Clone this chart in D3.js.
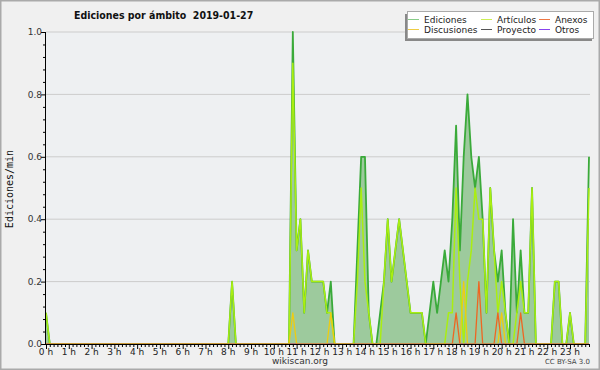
<!DOCTYPE html>
<html><head><meta charset="utf-8">
<script src="https://cdn.jsdelivr.net/npm/d3@7"></script>
<style>body{margin:0;background:#f0f0f0}svg{display:block}</style>
</head><body>
<svg id="c" width="600" height="370"></svg>
<script>
// 10-minute buckets (144 per day), edits per minute
const ediciones = [
0.1,0,0,0,0,0, 0,0,0,0,0,0, 0,0,0,0,0,0, 0,0,0,0,0,0, 0,0,0,0,0,0, 0,0,0,0,0,0, 0,0,0,0,0,0, 0,0,0,0,0,0,
0,0.2,0,0,0,0, 0,0,0,0,0,0, 0,0,0,0,0,1.0, 0.3,0.4,0.1,0.3,0.2,0.2, 0.2,0.2,0.1,0.2,0,0, 0,0,0,0,0.3,0.6,
0.6,0.1,0,0,0.1,0.2, 0.4,0.2,0.3,0.4,0.3,0.2, 0.1,0.1,0.1,0.1,0,0.1, 0.2,0.1,0.2,0.3,0.2,0.4,
0.7,0.3,0.6,0.8,0.6,0.5, 0.6,0.4,0.1,0.5,0.3,0.2, 0.3,0.1,0,0.4,0.1,0.3, 0.1,0.1,0.5,0,0,0,
0,0,0.2,0.2,0,0, 0.1,0,0,0,0,0.6];
const articulos = [
0.1,0,0,0,0,0, 0,0,0,0,0,0, 0,0,0,0,0,0, 0,0,0,0,0,0, 0,0,0,0,0,0, 0,0,0,0,0,0, 0,0,0,0,0,0, 0,0,0,0,0,0,
0,0.2,0,0,0,0, 0,0,0,0,0,0, 0,0,0,0,0,0.9, 0.3,0.4,0.1,0.3,0.2,0.2, 0.2,0.2,0.1,0.1,0,0, 0,0,0,0,0.2,0.5,
0.2,0.1,0,0,0,0.2, 0.4,0.2,0.3,0.4,0.3,0.2, 0.1,0.1,0.1,0.1,0,0, 0,0,0,0,0.1,0.1,
0.5,0.2,0,0.2,0.3,0.5, 0.4,0.4,0.1,0.5,0.3,0.1, 0.2,0.1,0,0,0.1,0.2, 0.1,0.1,0.5,0,0,0,
0,0,0.2,0.2,0,0, 0.1,0,0,0,0,0.5];
const anexos = [
0,0,0,0,0,0, 0,0,0,0,0,0, 0,0,0,0,0,0, 0,0,0,0,0,0, 0,0,0,0,0,0, 0,0,0,0,0,0, 0,0,0,0,0,0, 0,0,0,0,0,0,
0,0,0,0,0,0, 0,0,0,0,0,0, 0,0,0,0,0,0, 0,0,0,0,0,0, 0,0,0,0,0,0, 0,0,0,0,0,0,
0,0,0,0,0,0, 0,0,0,0,0,0, 0,0,0,0,0,0, 0,0,0,0,0,0,
0.1,0,0,0,0,0, 0.2,0,0,0,0,0.1, 0,0,0,0,0,0.1, 0,0,0,0,0,0,
0,0,0,0,0,0, 0,0,0,0,0,0];
const discusiones = [
0,0,0,0,0,0, 0,0,0,0,0,0, 0,0,0,0,0,0, 0,0,0,0,0,0, 0,0,0,0,0,0, 0,0,0,0,0,0, 0,0,0,0,0,0, 0,0,0,0,0,0,
0,0,0,0,0,0, 0,0,0,0,0,0, 0,0,0,0,0,0.1, 0,0,0,0,0,0, 0,0,0,0.1,0,0, 0,0,0,0,0,0,
0,0,0,0,0,0, 0,0,0,0,0,0, 0,0,0,0,0,0, 0,0,0,0,0,0,
0,0,0.2,0,0,0, 0,0,0,0,0,0, 0.1,0,0,0,0,0, 0,0,0,0,0,0,
0,0,0,0,0,0, 0,0,0,0,0,0];
const proyecto = new Array(144).fill(0);
const otros = new Array(144).fill(0);
const hourLabels = ["0 h","1 h","2 h","3 h","4 h","5 h","6 h","7 h","8 h","9 h","10 h","11 h",
  "12 h","13 h","14 h","15 h","16 h","17 h","18 h","19 h","20 h","21 h","22 h","23 h"];
const yTicks = [0.0,0.2,0.4,0.6,0.8,1.0];
const series = [
  {name:"Ediciones", values:ediciones, color:"#3aaa3a", legend:"#88cc88", w:1.8},
  {name:"Artículos", values:articulos, color:"#aaee11", legend:"#ccee55", w:1.5},
  {name:"Anexos", values:anexos, color:"#ee6622", legend:"#ee7744", w:1.3},
  {name:"Discusiones", values:discusiones, color:"#eecc11", legend:"#eecc44", w:1.3},
  {name:"Proyecto", values:proyecto, color:"#555555", legend:"#555555", w:1.3},
  {name:"Otros", values:otros, color:"#8844ee", legend:"#8844ee", w:1.3}
];

const svg = d3.select("#c");
const L=46, R=589, T=32, B=344;
const x = d3.scaleLinear().domain([0,143]).range([L,R]);
const y = d3.scaleLinear().domain([0,1]).range([B,T]);

svg.append("rect").attr("x",0.75).attr("y",0.75).attr("width",598.5).attr("height",368.5)
  .attr("fill","#f0f0f0").attr("stroke","#aaaaaa").attr("stroke-width",1.5);
svg.append("rect").attr("x",L).attr("y",T).attr("width",R-L+1).attr("height",B-T)
  .attr("fill","#eef0f2");

// grid
svg.append("g").selectAll("line").data(yTicks.filter(d=>d>0)).join("line")
  .attr("x1",L).attr("x2",R+1).attr("y1",d=>y(d)).attr("y2",d=>y(d))
  .attr("stroke","#cccccc").attr("stroke-width",1);

svg.append("defs").append("clipPath").attr("id","clip")
  .append("rect").attr("x",L).attr("y",0).attr("width",R-L+2).attr("height",B-0.5);

const g = svg.append("g").attr("clip-path","url(#clip)");
const area = d3.area().x((d,i)=>x(i)).y0(B).y1(d=>y(d));
g.append("path").datum(ediciones).attr("d",area).attr("fill","#9dca9d");
const line = d3.line().x((d,i)=>x(i)).y(d=>y(d));
const order = ["Ediciones","Otros","Proyecto","Artículos","Discusiones","Anexos"];
order.forEach(n=>{
  const s = series.find(d=>d.name===n);
  g.append("path").datum(s.values).attr("d",line).attr("fill","none")
   .attr("stroke",s.color).attr("stroke-width",s.w).attr("stroke-linejoin","round");
});

// axes
const xAxis = d3.axisBottom(x).tickValues(d3.range(0,144)).tickSize(3).tickFormat("");
const gx = svg.append("g").attr("transform",`translate(0,${B})`).call(xAxis);
gx.select(".domain").attr("d",`M${L},0.5H${R+1}`).attr("stroke","#000");
gx.selectAll(".tick line").attr("stroke","#000").attr("y2",(d)=>d%6===0?5:3);
svg.append("g").selectAll("text").data(hourLabels).join("text")
  .attr("x",(d,i)=>x(i*6)).attr("y",B+11).attr("text-anchor","middle")
  .attr("font-family","DejaVu Sans").attr("font-size",9).attr("fill","#222").text(d=>d);

const yAxis = d3.axisLeft(y).tickValues(d3.range(0,1.0001,0.04)).tickSize(3).tickFormat("");
const gy = svg.append("g").attr("transform",`translate(${L},0)`).call(yAxis);
gy.select(".domain").attr("d",`M-0.5,${T}V${B+0.5}`).attr("stroke","#000");
gy.selectAll(".tick line").attr("stroke","#000")
  .attr("x2",d=>Math.abs(d*5-Math.round(d*5))<1e-6?-5:-3);
svg.append("g").selectAll("text").data(yTicks).join("text")
  .attr("x",L-4).attr("y",d=>y(d)+3.2).attr("text-anchor","end")
  .attr("font-family","DejaVu Sans").attr("font-size",9).attr("fill","#333").text(d=>d.toFixed(1));

// labels
svg.append("text").attr("x",74).attr("y",18.5).attr("font-family","DejaVu Sans Condensed, DejaVu Sans")
  .attr("font-stretch","condensed").style("white-space","pre").attr("xml:space","preserve")
  .attr("font-weight","bold").attr("font-size",10.5).attr("fill","#111")
  .text("Ediciones por ámbito  2019-01-27");
svg.append("text").attr("transform","translate(13,189) rotate(-90)").attr("text-anchor","middle")
  .attr("font-family","DejaVu Sans Mono").attr("font-size",10).attr("fill","#111").text("Ediciones/min");
svg.append("text").attr("x",300).attr("y",364).attr("text-anchor","middle")
  .attr("font-family","DejaVu Sans").attr("font-size",9).attr("fill","#333").text("wikiscan.org");
svg.append("text").attr("x",590).attr("y",364).attr("text-anchor","end")
  .attr("font-family","DejaVu Sans").attr("font-size",7).attr("fill","#444").text("CC BY-SA 3.0");

// legend
svg.append("rect").attr("x",405).attr("y",14).attr("width",187).attr("height",27).attr("fill","#888");
svg.append("rect").attr("x",407.5).attr("y",11.5).attr("width",186).attr("height",27)
  .attr("fill","#ffffff").attr("stroke","#aaaaaa").attr("stroke-width",1);
const legPos = [[408,19],[481,19],[539,19],[408,29],[481,29],[539,29]];
const legOrder = ["Ediciones","Artículos","Anexos","Discusiones","Proyecto","Otros"];
const lg = svg.append("g");
legOrder.forEach((n,k)=>{
  const s = series.find(d=>d.name===n); const [lx,ly]=legPos[k];
  lg.append("line").attr("x1",lx).attr("x2",lx+11).attr("y1",ly+0.5).attr("y2",ly+0.5)
    .attr("stroke",s.legend).attr("stroke-width",1);
  lg.append("text").attr("x",lx+16).attr("y",ly+3.5).attr("font-family","DejaVu Sans")
    .attr("font-size",9).attr("fill","#222").text(n);
});
</script>
</body></html>
